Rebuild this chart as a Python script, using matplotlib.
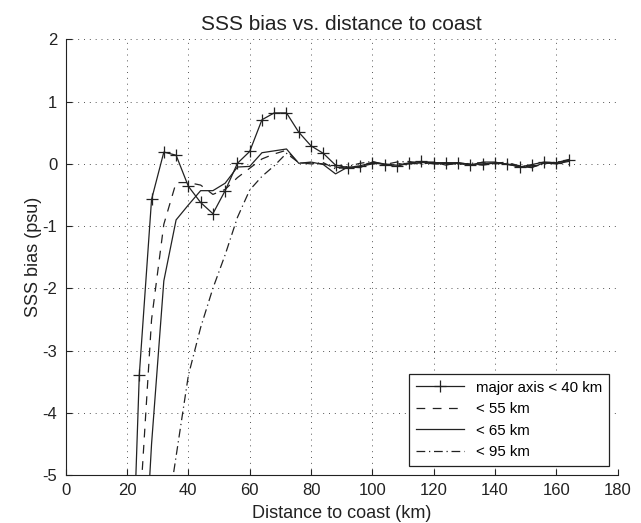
import numpy as np
import matplotlib
matplotlib.use("Agg")
import matplotlib.pyplot as plt

plt.rcParams["font.family"] = ["Liberation Sans", "DejaVu Sans"]
plt.rcParams["axes.unicode_minus"] = False

# distancia a costa (km) para cada serie
dist_40 = np.arange(20, 168, 4)
dist_55 = np.arange(24, 168, 4)
dist_65 = np.arange(24, 168, 4)
dist_95 = np.arange(32, 168, 4)

# vies de SSS (psu)
bias_40 = [-9.2, -3.39, -0.57, 0.19, 0.14, -0.36, -0.62, -0.80, -0.43, 0.01,
           0.20, 0.71, 0.82, 0.82, 0.51, 0.29, 0.17, -0.02, -0.06, -0.03,
           0.02, -0.01, -0.04, 0.02, 0.04, 0.02, 0.02, 0.02, -0.01, 0.00,
           0.02, 0.00, -0.05, -0.01, 0.03, 0.02, 0.07]
bias_55 = [-5.7, -2.5, -0.97, -0.30, -0.30, -0.34, -0.49, -0.41, -0.22, -0.07,
           0.08, 0.16, 0.22, 0.01, 0.02, 0.00, -0.05, -0.08, -0.04, 0.00,
           -0.02, 0.01, -0.02, 0.03, 0.00, -0.01, 0.01, 0.00, -0.02, 0.01,
           0.03, -0.06, -0.03, 0.01, 0.02, 0.05]
bias_65 = [-8.0, -4.5, -1.88, -0.90, -0.66, -0.43, -0.43, -0.31, -0.05, -0.04,
           0.18, 0.21, 0.24, 0.01, 0.03, -0.01, -0.16, -0.05, -0.06, 0.03,
           0.00, -0.02, 0.00, 0.02, 0.03, -0.02, 0.02, -0.02, 0.03, 0.03,
           -0.01, -0.04, -0.06, 0.02, 0.00, 0.04]
bias_95 = [-6.0, -4.7, -3.4, -2.63, -2.0, -1.46, -0.86, -0.42, -0.20, -0.03,
           0.17, 0.02, 0.00, 0.02, -0.08, -0.04, 0.01, 0.04, -0.01, 0.03,
           0.04, 0.00, 0.02, 0.01, -0.01, 0.01, 0.02, 0.00, 0.02, -0.03,
           -0.05, 0.00, 0.03, 0.06]

fig = plt.figure(figsize=(6.41, 5.23), dpi=100)
ax = fig.add_axes([0.1025, 0.0918, 0.8611, 0.8327])

cor = "#222222"
ax.plot(dist_40, bias_40, color=cor, lw=0.9, marker="+", ms=8, mew=0.9,
        label="major axis < 40 km")
ax.plot(dist_55, bias_55, color=cor, lw=0.9, linestyle=(0, (7, 6)),
        label="< 55 km")
ax.plot(dist_65, bias_65, color=cor, lw=0.9, linestyle="-",
        label="< 65 km")
ax.plot(dist_95, bias_95, color=cor, lw=0.9, linestyle=(0, (7, 3, 1, 3)),
        label="< 95 km")

ax.set_xlim(0, 180)
ax.set_ylim(-5, 2)
ax.set_xticks(np.arange(0, 181, 20))
ax.set_yticks(np.arange(-5, 3, 1))
ax.grid(True, color="#555555", linestyle=(0, (1, 5)), linewidth=0.7)
ax.spines["top"].set_visible(False)
ax.spines["right"].set_visible(False)
ax.spines["left"].set_color(cor)
ax.spines["bottom"].set_color(cor)
ax.tick_params(direction="in", length=4, labelsize=12, colors=cor)
ax.tick_params(axis="x", pad=6)
ax.tick_params(axis="y", pad=6)

ax.set_title("SSS bias vs. distance to coast", fontsize=15, color=cor, pad=7)
ax.set_xlabel("Distance to coast (km)", fontsize=13, color=cor, labelpad=5)
ax.set_ylabel("SSS bias (psu)", fontsize=13, color=cor, labelpad=0)

leg = ax.legend(loc="lower right", bbox_to_anchor=(0.984, 0.021),
                borderaxespad=0, fontsize=10.8, handlelength=3.2,
                fancybox=False, framealpha=1, edgecolor=cor,
                labelspacing=0.5, borderpad=0.45)
leg.get_frame().set_linewidth(0.9)

fig.savefig("out.png", dpi=100)
